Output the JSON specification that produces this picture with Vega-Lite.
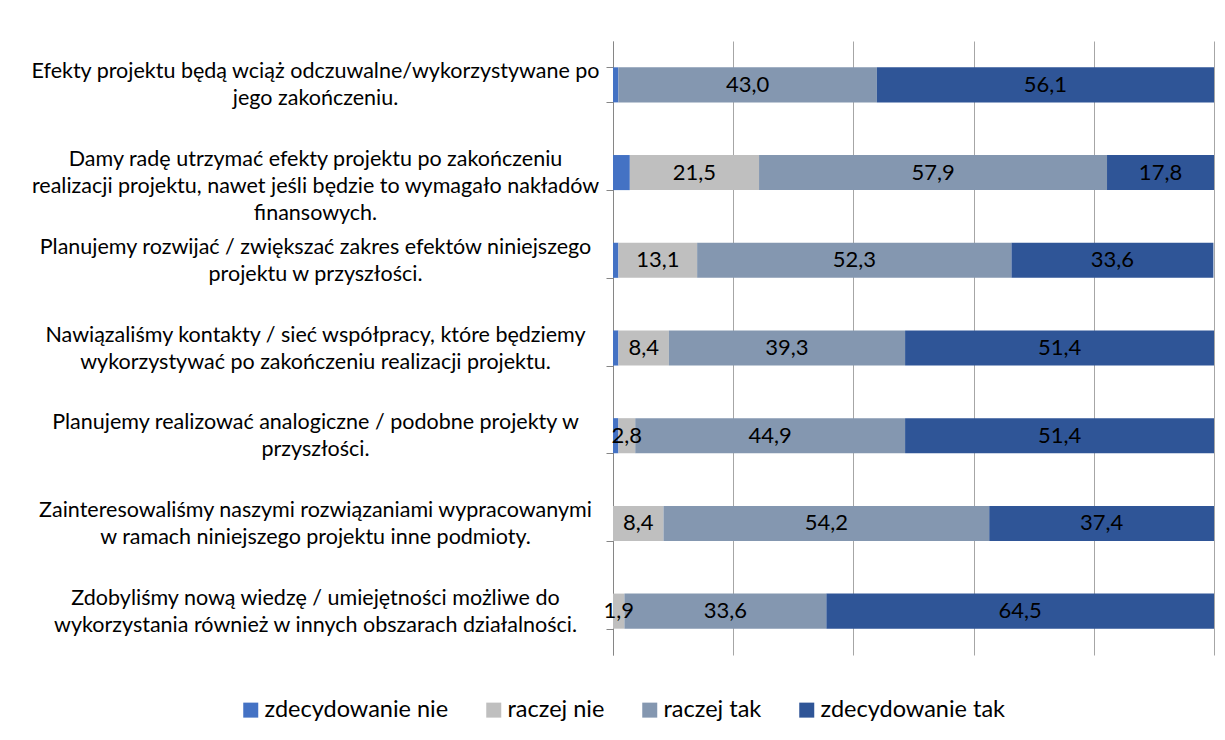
{
  "$schema": "https://vega.github.io/schema/vega-lite/v6.json",
  "autosize": "none",
  "width": 601,
  "height": 614,
  "padding": {"left": 613, "top": 41, "right": 11, "bottom": 85},
  "background": "#ffffff",
  "config": {
    "font": "Lato",
    "view": {"stroke": null},
    "locale": {"number": {"decimal": ",", "thousands": " ", "grouping": [3], "currency": ["", " zł"]}}
  },
  "data": {
    "values": [
      {"cat": "Efekty projektu będą wciąż odczuwalne/wykorzystywane po|jego zakończeniu.", "resp": "zdecydowanie nie", "value": 0.9},
      {"cat": "Efekty projektu będą wciąż odczuwalne/wykorzystywane po|jego zakończeniu.", "resp": "raczej nie", "value": 0},
      {"cat": "Efekty projektu będą wciąż odczuwalne/wykorzystywane po|jego zakończeniu.", "resp": "raczej tak", "value": 43.0},
      {"cat": "Efekty projektu będą wciąż odczuwalne/wykorzystywane po|jego zakończeniu.", "resp": "zdecydowanie tak", "value": 56.1},
      {"cat": "Damy radę utrzymać efekty projektu po zakończeniu|realizacji projektu, nawet jeśli będzie to wymagało nakładów|finansowych.", "resp": "zdecydowanie nie", "value": 2.8},
      {"cat": "Damy radę utrzymać efekty projektu po zakończeniu|realizacji projektu, nawet jeśli będzie to wymagało nakładów|finansowych.", "resp": "raczej nie", "value": 21.5},
      {"cat": "Damy radę utrzymać efekty projektu po zakończeniu|realizacji projektu, nawet jeśli będzie to wymagało nakładów|finansowych.", "resp": "raczej tak", "value": 57.9},
      {"cat": "Damy radę utrzymać efekty projektu po zakończeniu|realizacji projektu, nawet jeśli będzie to wymagało nakładów|finansowych.", "resp": "zdecydowanie tak", "value": 17.8},
      {"cat": "Planujemy rozwijać / zwiększać zakres efektów niniejszego|projektu w przyszłości.", "resp": "zdecydowanie nie", "value": 0.9},
      {"cat": "Planujemy rozwijać / zwiększać zakres efektów niniejszego|projektu w przyszłości.", "resp": "raczej nie", "value": 13.1},
      {"cat": "Planujemy rozwijać / zwiększać zakres efektów niniejszego|projektu w przyszłości.", "resp": "raczej tak", "value": 52.3},
      {"cat": "Planujemy rozwijać / zwiększać zakres efektów niniejszego|projektu w przyszłości.", "resp": "zdecydowanie tak", "value": 33.6},
      {"cat": "Nawiązaliśmy kontakty / sieć współpracy, które będziemy|wykorzystywać po zakończeniu realizacji projektu.", "resp": "zdecydowanie nie", "value": 0.9},
      {"cat": "Nawiązaliśmy kontakty / sieć współpracy, które będziemy|wykorzystywać po zakończeniu realizacji projektu.", "resp": "raczej nie", "value": 8.4},
      {"cat": "Nawiązaliśmy kontakty / sieć współpracy, które będziemy|wykorzystywać po zakończeniu realizacji projektu.", "resp": "raczej tak", "value": 39.3},
      {"cat": "Nawiązaliśmy kontakty / sieć współpracy, które będziemy|wykorzystywać po zakończeniu realizacji projektu.", "resp": "zdecydowanie tak", "value": 51.4},
      {"cat": "Planujemy realizować analogiczne / podobne projekty w|przyszłości.", "resp": "zdecydowanie nie", "value": 0.9},
      {"cat": "Planujemy realizować analogiczne / podobne projekty w|przyszłości.", "resp": "raczej nie", "value": 2.8},
      {"cat": "Planujemy realizować analogiczne / podobne projekty w|przyszłości.", "resp": "raczej tak", "value": 44.9},
      {"cat": "Planujemy realizować analogiczne / podobne projekty w|przyszłości.", "resp": "zdecydowanie tak", "value": 51.4},
      {"cat": "Zainteresowaliśmy naszymi rozwiązaniami wypracowanymi|w ramach niniejszego projektu inne podmioty.", "resp": "zdecydowanie nie", "value": 0},
      {"cat": "Zainteresowaliśmy naszymi rozwiązaniami wypracowanymi|w ramach niniejszego projektu inne podmioty.", "resp": "raczej nie", "value": 8.4},
      {"cat": "Zainteresowaliśmy naszymi rozwiązaniami wypracowanymi|w ramach niniejszego projektu inne podmioty.", "resp": "raczej tak", "value": 54.2},
      {"cat": "Zainteresowaliśmy naszymi rozwiązaniami wypracowanymi|w ramach niniejszego projektu inne podmioty.", "resp": "zdecydowanie tak", "value": 37.4},
      {"cat": "Zdobyliśmy nową wiedzę / umiejętności możliwe do|wykorzystania również w innych obszarach działalności.", "resp": "zdecydowanie nie", "value": 0},
      {"cat": "Zdobyliśmy nową wiedzę / umiejętności możliwe do|wykorzystania również w innych obszarach działalności.", "resp": "raczej nie", "value": 1.9},
      {"cat": "Zdobyliśmy nową wiedzę / umiejętności możliwe do|wykorzystania również w innych obszarach działalności.", "resp": "raczej tak", "value": 33.6},
      {"cat": "Zdobyliśmy nową wiedzę / umiejętności możliwe do|wykorzystania również w innych obszarach działalności.", "resp": "zdecydowanie tak", "value": 64.5}
    ]
  },
  "transform": [
    {"stack": "value", "groupby": ["cat"], "as": ["x0", "x1"]}
  ],
  "encoding": {
    "y": {
      "field": "cat",
      "type": "nominal",
      "sort": null,
      "scale": {"paddingInner": 0.6, "paddingOuter": 0.3},
      "axis": {
        "title": null,
        "domainColor": "#868686",
        "tickColor": "#868686",
        "tickSize": 7,
        "tickBand": "extent",
        "labelAlign": "center",
        "labelBaseline": "line-bottom",
        "labelPadding": 291,
        "labelFontSize": 21.5,
        "labelLineHeight": 27,
        "labelLimit": 0,
        "labelColor": "#000000",
        "labelExpr": "split(datum.label, '|')",
        "encode": {
          "labels": {
            "dy": {"value": {"expr": "-(length(split(datum.value, '|')) - 2) * 13.5"}}
          }
        }
      }
    }
  },
  "layer": [
    {
      "mark": {"type": "bar"},
      "encoding": {
        "x": {
          "field": "x0",
          "type": "quantitative",
          "scale": {"domain": [0, 100], "nice": false, "zero": true},
          "axis": {
            "title": null,
            "labels": false,
            "ticks": false,
            "domain": false,
            "grid": true,
            "gridColor": "#a6a6a6",
            "gridWidth": 1,
            "values": [0, 20, 40, 60, 80, 100]
          }
        },
        "x2": {"field": "x1"},
        "color": {
          "field": "resp",
          "type": "nominal",
          "scale": {
            "domain": ["zdecydowanie nie", "raczej nie", "raczej tak", "zdecydowanie tak"],
            "range": ["#4472C4", "#BFBFBF", "#8497B0", "#2F5597"]
          },
          "legend": {
            "title": null,
            "orient": "none",
            "direction": "horizontal",
            "legendX": -374,
            "legendY": 657,
            "symbolType": "square",
            "symbolSize": 225,
            "symbolStrokeWidth": 0,
            "labelFontSize": 23.5,
            "labelColor": "#000000",
            "labelOffset": 2,
            "columnPadding": 33,
            "labelLimit": 0
          }
        }
      }
    },
    {
      "transform": [
        {"filter": "datum.resp != 'zdecydowanie nie' && datum.value > 0"},
        {"calculate": "(datum.x0 + datum.x1) / 2", "as": "xmid"}
      ],
      "mark": {"type": "text", "fontSize": 22, "color": "#000000", "align": "center", "baseline": "middle"},
      "encoding": {
        "x": {"field": "xmid", "type": "quantitative"},
        "text": {"field": "value", "type": "quantitative", "format": ".1f"}
      }
    }
  ]
}
